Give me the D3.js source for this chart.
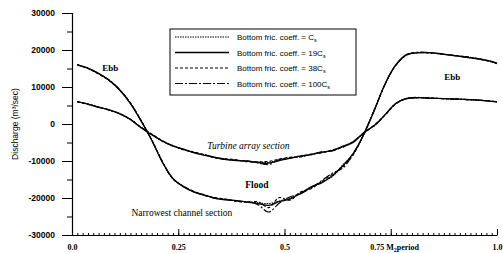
<!DOCTYPE html>
<html>
<head>
<meta charset="utf-8">
<script src="https://cdn.jsdelivr.net/npm/d3@7"></script>
<style>
  body { margin: 0; background: #fff; }
  svg { display: block; }
</style>
</head>
<body>
<svg width="503" height="253"></svg>
<script>
const svg = d3.select("svg");

// M2 phase (fraction of period)
const phase = [0.0125,0.0375,0.0625,0.0875,0.1125,0.1375,0.1625,0.1875,0.2125,0.2375,0.2625,0.2875,0.3125,0.3375,0.3625,0.3875,0.4125,0.4375,0.4625,0.4875,0.5125,0.5375,0.5625,0.5875,0.6125,0.6375,0.6625,0.6875,0.7125,0.7375,0.7625,0.7875,0.8125,0.8375,0.8625,0.8875,0.9125,0.9375,0.9625,0.9875,1.0];

// Narrowest channel section, discharge m3/s
const narrowCs   = [16000,15000,13600,11800,9200,5600,900,-4300,-10200,-14800,-16900,-18300,-19300,-20000,-20400,-20800,-21000,-21300,-21500,-20800,-20000,-18600,-17300,-15700,-14200,-11000,-8000,-2500,4100,11000,16000,18700,19300,19300,19000,18700,18300,18000,17500,16800,16400];
const narrow19Cs = [16000,15100,13700,11800,9100,5500,800,-4400,-10300,-14700,-17000,-18400,-19200,-20100,-20500,-20700,-21100,-21500,-22000,-21000,-20300,-18800,-17000,-15900,-14000,-11300,-7800,-2600,4000,11100,16100,18800,19200,19300,19100,18600,18300,17900,17500,16900,16400];
const narrow38Cs = [16000,15000,13500,11700,9200,5700,1000,-4200,-10100,-14900,-16900,-18200,-19400,-19900,-20300,-20900,-21200,-21000,-22600,-19900,-20600,-18400,-17500,-15500,-13600,-11500,-8200,-2400,4200,11000,15900,18700,19300,19200,19000,18700,18400,18000,17400,16800,16400];
const narrow100Cs = [16100,15000,13600,11900,9300,5600,900,-4300,-10200,-14800,-16800,-18400,-19300,-20100,-20400,-20900,-21000,-21800,-23800,-21400,-19700,-18900,-17200,-15300,-13300,-11900,-7900,-2600,4100,10900,16000,18600,19400,19300,19000,18700,18300,17900,17500,16800,16300];

// Turbine array section
const turbineCs   = [6000,5400,4600,3800,2800,1200,-900,-2800,-4600,-5900,-6900,-7700,-8400,-9100,-9500,-9800,-10100,-10300,-10400,-9700,-9100,-8800,-8200,-7700,-7100,-6200,-4800,-2300,-300,2600,5600,6900,7100,7000,6900,6800,6700,6600,6400,6100,6000];
const turbine19Cs = [6000,5400,4500,3800,2700,1200,-1000,-2900,-4600,-6000,-6800,-7800,-8500,-9000,-9600,-9900,-10000,-10400,-10600,-9900,-9300,-8700,-8300,-7600,-7200,-6000,-4900,-2200,-300,2600,5600,6900,7100,7000,6900,6800,6700,6600,6400,6100,6000];
const turbine38Cs = [6000,5300,4600,3700,2800,1300,-900,-2700,-4500,-5900,-7000,-7600,-8300,-9200,-9400,-9700,-10200,-10200,-10100,-9500,-9000,-8900,-8100,-7800,-7000,-6300,-4700,-2400,-200,2500,5500,6800,7100,7100,6900,6800,6700,6500,6400,6100,6000];
const turbine100Cs = [6100,5400,4600,3800,2800,1200,-900,-2800,-4700,-5800,-6900,-7700,-8300,-9100,-9600,-9800,-10000,-10500,-11000,-9600,-9200,-8600,-8300,-7500,-7300,-6100,-4600,-2300,-400,2600,5600,6900,7200,7000,6900,6800,6700,6600,6400,6200,6000];

const legendLabels = ["", "19", "38", "100"];
const yTicks = [-30000, -20000, -10000, 0, 10000, 20000, 30000];
const xTicks = [0, 0.25, 0.5, 0.75, 1.0];
const xTickLabels = ["0.0", "0.25", "0.5", "0.75", "1.0"];

const x = d3.scaleLinear().domain([0, 1]).range([72, 497]);
const y = d3.scaleLinear().domain([-30000, 30000]).range([235, 13]);

// line styles for the four friction cases
const dashes = ["1.5,1", null, "3,2", "8,2,2,2"];
const widths = [1.1, 1.3, 1.1, 1.1];

const line = d3.line()
    .x((d, i) => x(phase[i]))
    .y(d => y(d))
    .curve(d3.curveCatmullRom);

[narrowCs, narrow19Cs, narrow38Cs, narrow100Cs].forEach((s, k) => {
    svg.append("path")
        .attr("d", line(s))
        .attr("fill", "none")
        .attr("stroke", "#000")
        .attr("stroke-width", widths[k])
        .attr("stroke-dasharray", dashes[k]);
});
[turbineCs, turbine19Cs, turbine38Cs, turbine100Cs].forEach((s, k) => {
    svg.append("path")
        .attr("d", line(s))
        .attr("fill", "none")
        .attr("stroke", "#000")
        .attr("stroke-width", widths[k])
        .attr("stroke-dasharray", dashes[k]);
});

// y axis: major ticks with labels, minor ticks between
const yAxis = svg.append("g")
    .attr("transform", "translate(72,0)")
    .call(d3.axisLeft(y).tickValues(yTicks).tickSize(10).tickPadding(7)
        .tickFormat(d => String(d)));
svg.append("g")
    .attr("transform", "translate(72,0)")
    .call(d3.axisLeft(y).tickValues(yTicks.slice(1).map(d => d - 5000)).tickSize(5).tickFormat(""))
    .select(".domain").remove();
yAxis.selectAll("text")
    .attr("font-family", "Liberation Sans, Arial, sans-serif")
    .attr("font-weight", "bold")
    .attr("font-size", "8.5px")
    .attr("fill", "#000");
yAxis.select(".domain").attr("stroke-width", 1.2);

// x axis: ticks point inward
const minorX = d3.range(0, 81).map(i => i / 80);
svg.append("g")
    .attr("transform", "translate(0,235)")
    .call(d3.axisBottom(x).tickValues(minorX).tickSizeInner(-2).tickSizeOuter(0).tickFormat(""))
    .select(".domain").remove();
const xAxis = svg.append("g")
    .attr("transform", "translate(0,235)")
    .call(d3.axisBottom(x).tickValues(xTicks).tickSizeInner(-6).tickSizeOuter(0).tickPadding(9)
        .tickFormat((d, i) => xTickLabels[i]));
xAxis.select(".domain").attr("stroke-width", 1.2);
xAxis.selectAll("text")
    .attr("font-family", "Liberation Serif, Times New Roman, serif")
    .attr("font-weight", "bold")
    .attr("font-size", "8px")
    .attr("fill", "#000");
const t75 = xAxis.selectAll(".tick").filter(d => d === 0.75).select("text");
t75.attr("text-anchor", "start").attr("x", -21).text("0.75 M");
t75.append("tspan").attr("font-size", "6px").attr("dy", 2).text("2");
t75.append("tspan").attr("dy", -2).text("period");

// y label
svg.append("text")
    .attr("transform", "translate(18,124) rotate(-90)")
    .attr("text-anchor", "middle")
    .attr("font-family", "Liberation Sans, Arial, sans-serif")
    .attr("font-size", "8.5px")
    .text("Discharge (m\u00b3/sec)");

// annotations
const serif = "Liberation Serif, Times New Roman, serif";
svg.append("text").attr("x", x(0.09)).attr("y", y(14200)).attr("text-anchor", "middle")
    .attr("font-family", serif).attr("font-weight", "bold").attr("font-size", "9px").text("Ebb");
svg.append("text").attr("x", x(0.895)).attr("y", y(12000)).attr("text-anchor", "middle")
    .attr("font-family", serif).attr("font-weight", "bold").attr("font-size", "9px").text("Ebb");
svg.append("text").attr("x", x(0.318)).attr("y", y(-6800)).attr("text-anchor", "start")
    .attr("font-family", serif).attr("font-style", "italic").attr("font-size", "9.5px").text("Turbine array section");
svg.append("text").attr("x", x(0.435)).attr("y", y(-17300)).attr("text-anchor", "middle")
    .attr("font-family", serif).attr("font-weight", "bold").attr("font-size", "9.5px").text("Flood");
svg.append("text").attr("x", x(0.14)).attr("y", y(-24800)).attr("text-anchor", "start")
    .attr("font-family", serif).attr("font-size", "9.5px").text("Narrowest channel section");

// legend
const legend = svg.append("g").attr("transform", "translate(170,29)");
legend.append("rect")
    .attr("width", 186).attr("height", 66)
    .attr("fill", "#fff").attr("stroke", "#000").attr("stroke-width", 1);
legendLabels.forEach((lab, k) => {
    const ly = 8 + k * 15.5;
    legend.append("line")
        .attr("x1", 5).attr("x2", 59).attr("y1", ly).attr("y2", ly)
        .attr("stroke", "#000").attr("stroke-width", widths[k])
        .attr("stroke-dasharray", dashes[k]);
    const t = legend.append("text")
        .attr("x", 67).attr("y", ly + 3)
        .attr("font-family", "Liberation Sans, Arial, sans-serif")
        .attr("font-size", "8px")
        .text("Bottom fric. coeff. = " + lab + "C");
    t.append("tspan").attr("font-size", "5.5px").attr("dy", 2).text("s");
});
</script>
</body>
</html>
